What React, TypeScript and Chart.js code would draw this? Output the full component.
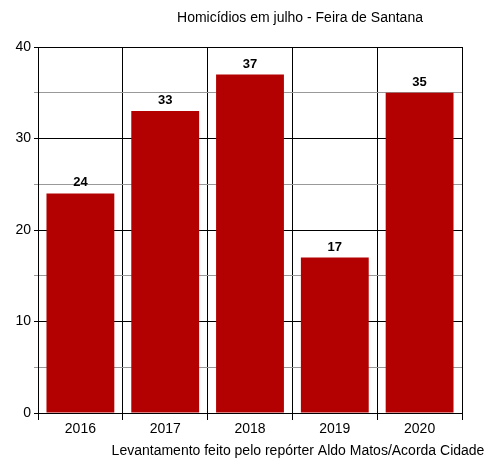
import React, { useEffect, useRef } from "react";
import { Chart, registerables } from "chart.js";

Chart.register(...registerables);

const categories = ["2016", "2017", "2018", "2019", "2020"];
const homicides = [24, 33, 37, 17, 35];
const chartTitle = "Homicídios em julho - Feira de Santana";
const caption = "Levantamento feito pelo repórter Aldo Matos/Acorda Cidade";
const FONT = "'Liberation Sans', Arial, sans-serif";

const textPlugin = {
  id: "texts",
  afterDatasetsDraw(chart: any) {
    const { ctx } = chart;
    ctx.save();
    ctx.fillStyle = "#000";
    ctx.textAlign = "center";
    ctx.textBaseline = "bottom";
    ctx.font = `bold 13px ${FONT}`;
    const meta = chart.getDatasetMeta(0);
    meta.data.forEach((bar: any, i: number) => {
      ctx.fillText(String(homicides[i]), bar.x, bar.y - 4);
    });
    ctx.font = `14px ${FONT}`;
    ctx.textBaseline = "middle";
    ctx.fillText(chartTitle, 300, 18);
    ctx.fillText(caption, 298, 451);
    ctx.restore();
  },
};

export default function App() {
  const ref = useRef<HTMLCanvasElement | null>(null);
  useEffect(() => {
    document.body.style.margin = "0";
    const chart = new Chart(ref.current as HTMLCanvasElement, {
      type: "bar",
      data: {
        labels: categories,
        datasets: [
          {
            data: homicides,
            backgroundColor: "#b30000",
            borderWidth: 0,
            categoryPercentage: 1,
            barPercentage: 0.8,
          },
        ],
      },
      options: {
        animation: false,
        responsive: true,
        maintainAspectRatio: false,
        layout: { padding: { top: 47, right: 32, left: 0, bottom: 0 } },
        plugins: { legend: { display: false }, tooltip: { enabled: false }, title: { display: false } },
        scales: {
          x: {
            grid: {
              display: true,
              offset: true,
              color: "#000",
              lineWidth: 1,
              tickLength: 7,
              tickColor: "#000",
            },
            border: { display: true, color: "#000" },
            ticks: { color: "#000", font: { family: FONT, size: 14 }, padding: 1 },
            afterFit(scale: any) {
              scale.height = 50;
            },
          },
          y: {
            min: 0,
            max: 40,
            grid: {
              color: (c: any) => (c.tick && c.tick.value % 10 === 0 ? "#000" : "#999"),
              tickColor: (c: any) => (c.tick && c.tick.value % 10 === 0 ? "#000" : "#999"),
              tickLength: 4,
              lineWidth: 1,
            },
            border: { display: true, color: "#000" },
            ticks: {
              stepSize: 5,
              color: "#000",
              font: { family: FONT, size: 14 },
              padding: 3,
              callback: (v: any) => (Number(v) % 10 === 0 ? String(v) : ""),
            },
            afterFit(scale: any) {
              scale.width = 38;
            },
          },
        },
      },
      plugins: [textPlugin],
    } as any);
    return () => chart.destroy();
  }, []);
  return (
    <div style={{ width: 494, height: 463, position: "relative" }}>
      <canvas ref={ref} />
    </div>
  );
}
